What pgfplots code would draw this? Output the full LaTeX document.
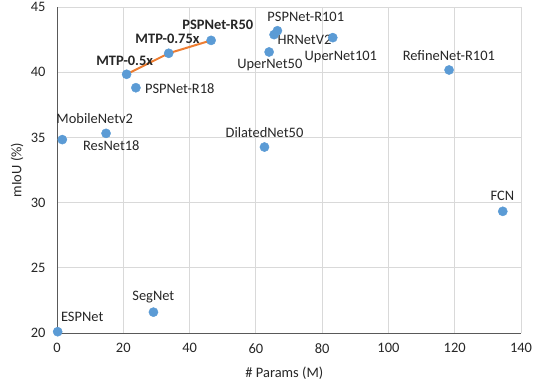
\documentclass[border=0pt]{standalone}
\usepackage{fontspec}
\setmainfont{Carlito}
\usepackage{pgfplots}
\pgfplotsset{compat=1.18}
\definecolor{ptblue}{HTML}{5B9BD5}
\definecolor{lnorange}{HTML}{ED7D31}
\definecolor{gridgray}{HTML}{D9D9D9}
\definecolor{axgray}{HTML}{595959}
\definecolor{txt}{HTML}{262626}
\begin{document}
\begin{tikzpicture}
\path[use as bounding box] (0,0) rectangle (534bp,381bp);
\begin{axis}[
  at={(57bp,48bp)}, anchor=south west,
  scale only axis, width=464bp, height=326bp,
  xmin=0, xmax=140, ymin=20, ymax=45,
  xtick={0,20,...,140}, ytick={20,25,...,45},
  axis lines=left, axis line style={-, axgray, line width=1pt},
  grid=major, major grid style={gridgray, line width=0.8pt},
  major tick length=0pt,
  tick label style={font=\fontsize{14.5}{16}\selectfont, text=txt},
  /pgf/number format/assume math mode=true,
  xticklabel style={yshift=-7bp},
  yticklabel style={xshift=-8bp},
  xlabel={\# Params (M)}, ylabel={mIoU (\%)},
  label style={font=\fontsize{14.5}{16}\selectfont, text=txt},
  xlabel style={at={(axis description cs:0.49,0)}, anchor=center, yshift=-40bp},
  ylabel style={at={(axis description cs:-0.086,0.5)}, anchor=center},
  clip=false,
]
\addplot[lnorange, line width=2bp, no marks] coordinates {
  (21.0,39.84) (33.7,41.45) (46.5,42.44)
};
\addplot[only marks, mark=*, mark size=4.6bp, mark options={draw=ptblue, fill=ptblue}] coordinates {
  (0.2,20.1) (29.1,21.6) (1.6,34.83) (14.8,35.31) (21.0,39.84) (23.8,38.81)
  (33.7,41.45) (46.5,42.44) (62.6,34.26) (64.0,41.55) (65.5,42.88) (66.5,43.18)
  (83.2,42.65) (118.3,40.17) (134.5,29.33)
};
\tikzset{lab/.style={font=\fontsize{14.5}{16}\selectfont, text=txt, anchor=center, inner sep=0pt}}
\node[lab] at (axis cs:7.6,21.25) {ESPNet};
\node[lab] at (axis cs:29.07,22.74) {SegNet};
\node[lab] at (axis cs:11.38,36.41) {MobileNetv2};
\node[lab] at (axis cs:16.38,34.39) {ResNet18};
\node[lab] at (axis cs:20.43,40.91) {\bfseries MTP-0.5x};
\node[lab] at (axis cs:37.05,38.73) {PSPNet-R18};
\node[lab] at (axis cs:33.34,42.55) {\bfseries MTP-0.75x};
\node[lab] at (axis cs:48.52,43.67) {\bfseries PSPNet-R50};
\node[lab] at (axis cs:62.61,35.36) {DilatedNet50};
\node[lab] at (axis cs:64.21,40.55) {UperNet50};
\node[lab] at (axis cs:75.07,44.21) {PSPNet-R101};
\node[lab] at (axis cs:74.68,42.47) {HRNetV2};
\node[lab] at (axis cs:85.64,41.19) {UperNet101};
\node[lab] at (axis cs:118.22,41.27) {RefineNet-R101};
\node[lab] at (axis cs:134.37,30.48) {FCN};
\end{axis}
\end{tikzpicture}
\end{document}
